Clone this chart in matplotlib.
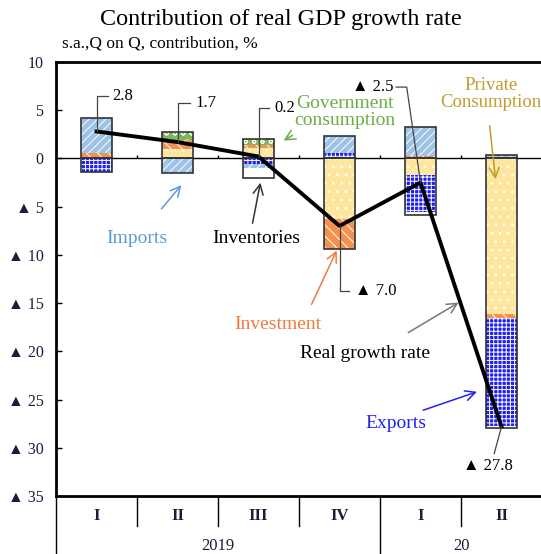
# Contribution of real GDP growth rate
import numpy as np
import matplotlib.pyplot as plt

plt.rcParams['font.family'] = ['Liberation Serif', 'DejaVu Serif']
plt.rcParams['hatch.linewidth'] = 0.7

quarters = ['I', 'II', 'III', 'IV', 'I', 'II']
years = ['2019', '20']
year_span = [4, 2]

# contributions (%), s.a. Q on Q
private = [0.2, 1.0, 1.05, -6.3, -1.7, -16.1]
investment = [0.35, 0.9, 0.35, -3.1, 0.25, -0.4]
government = [0.0, 0.8, 0.6, 0.2, 0.0, 0.0]
exports = [-1.4, 0.0, -0.6, 0.35, -3.9, -11.2]
imports = [3.6, -1.5, -0.35, 1.8, 3.0, 0.35]
inventories = [0.0, 0.0, -1.1, 0.0, -0.3, -0.3]
growth = [2.8, 1.7, 0.2, -7.0, -2.5, -27.8]

# (values, face colour, hatch)
series = [
    (private, '#FFE69E', '..'),
    (investment, '#F4914E', '\\\\\\'),
    (government, '#7DB75A', 'oo'),
    (exports, '#1E1EF0', '++++'),
    (imports, '#9DC3E6', '////'),
    (inventories, '#FFFFFF', ''),
]

fig = plt.figure(figsize=(5.41, 5.54), dpi=100)
ax = fig.add_axes([56 / 541, 58 / 554, 486 / 541, 434 / 554])

x = np.arange(len(quarters))
w = 0.39
pos = np.zeros(len(x))
neg = np.zeros(len(x))
for vals, col, hatch in series:
    v = np.array(vals)
    bottom = np.where(v >= 0, pos, neg)
    ax.bar(x, v, w, bottom=bottom, color=col, edgecolor='white',
           hatch=hatch, linewidth=0, zorder=2)
    pos += np.where(v >= 0, v, 0)
    neg += np.where(v < 0, v, 0)

# outline of stacks
ax.bar(x, pos, w, fill=False, edgecolor='#333333', linewidth=1.2, zorder=3)
ax.bar(x, neg, w, fill=False, edgecolor='#333333', linewidth=1.2, zorder=3)

ax.axhline(0, color='black', lw=1, zorder=1)
ax.vlines(x[:-1] + 0.5, 0, 0.4, color='black', lw=1)

# real growth rate line
ax.plot(x, growth, color='black', lw=2.8, zorder=4)

# value labels with leaders
lc = '#444444'
ax.plot([0, 0, 0.14], [growth[0], 6.5, 6.5], color=lc, lw=0.9, zorder=5)
ax.text(0.2, 6.5, '2.8', fontsize=12, va='center', ha='left')
ax.plot([1, 1, 1.16], [growth[1], 5.76, 5.76], color=lc, lw=0.9, zorder=5)
ax.text(1.22, 5.76, '1.7', fontsize=12, va='center', ha='left')
ax.plot([2, 2, 2.13], [growth[2], 5.24, 5.24], color=lc, lw=0.9, zorder=5)
ax.text(2.19, 5.24, '0.2', fontsize=12, va='center', ha='left')
ax.plot([3.7, 3.83, 4], [7.4, 7.4, growth[4]], color=lc, lw=0.9, zorder=5)
ax.text(3.67, 7.4, '▲ 2.5', fontsize=12, va='center', ha='right')
ax.plot([3, 3, 3.12], [growth[3], -13.75, -13.75], color=lc, lw=0.9, zorder=5)
ax.text(3.19, -13.75, '▲ 7.0', fontsize=12, va='center', ha='left')
ax.plot([5, 4.91], [growth[5], -30.6], color=lc, lw=0.9, zorder=5)
ax.text(4.52, -31.9, '▲ 27.8', fontsize=12, va='center', ha='left')

# series labels with arrows
def label(txt, tx, ty, tail, head, col, acol=None, fs=14):
    ax.text(tx, ty, txt, fontsize=fs, color=col, ha='center', va='center',
            linespacing=1.0, zorder=6)
    ax.annotate('', xy=head, xytext=tail, zorder=6,
                arrowprops=dict(arrowstyle='->', color=acol or col, lw=1.1,
                                mutation_scale=18))

label('Imports', 0.5, -8.25, (0.78, -5.45), (1.07, -2.54), '#5B9BD5')
label('Inventories', 1.97, -8.25, (1.92, -7.0), (2.03, -2.23), 'black', '#333333')
label('Government\nconsumption', 3.07, 4.8, (2.45, 2.54), (2.28, 1.71), '#6AAE45')
label('Private\nConsumption', 4.87, 6.7, (4.85, 3.68), (4.93, -2.44), '#C49A2C',
      fs=13.5)
label('Investment', 2.24, -17.2, (2.64, -15.4), (2.98, -9.28), '#F07B3F')
label('Real growth rate', 3.31, -20.2, (3.82, -18.2), (4.5, -14.8), 'black', '#777777')
label('Exports', 3.7, -27.5, (4.0, -26.2), (4.73, -24.1), '#2222EE')

# axes
ax.set_xlim(-0.5, 5.5)
ax.set_ylim(-35, 10)
yt = np.arange(-35, 11, 5)
ax.set_yticks(yt)
ax.set_yticklabels([f'▲ {-t}' if t < 0 else str(t) for t in yt],
                   fontsize=11.5, color='#1c1c3a')
ax.tick_params(axis='y', direction='in', length=4, width=1, pad=9)
ax.set_xticks([])
for s in ['top', 'left', 'bottom']:
    ax.spines[s].set_linewidth(2)
ax.spines['right'].set_visible(False)

# category axis below the plot
tr = ax.get_xaxis_transform()
for b in np.arange(-0.5, 5.5, 1.0):
    low = -0.145 if b in (-0.5, 3.5) else -0.07
    ax.plot([b, b], [0, low], color='black', lw=1, transform=tr, clip_on=False)
for i, q in enumerate(quarters):
    ax.text(i, -0.045, q, transform=tr, ha='center', va='center',
            fontsize=12, fontweight='bold', color='#1c1c3a')
start = 0
for yr, n in zip(years, year_span):
    ax.text(start + (n - 1) / 2, -0.115, yr, transform=tr, ha='center',
            va='center', fontsize=12, color='#1c1c3a')
    start += n

fig.text(0.52, 0.965, 'Contribution of real GDP growth rate', fontsize=17.4,
         ha='center', va='center')
fig.text(0.115, 0.922, 's.a.,Q on Q, contribution, %', fontsize=12.5,
         ha='left', va='center')

plt.savefig('out.png', dpi=100)
